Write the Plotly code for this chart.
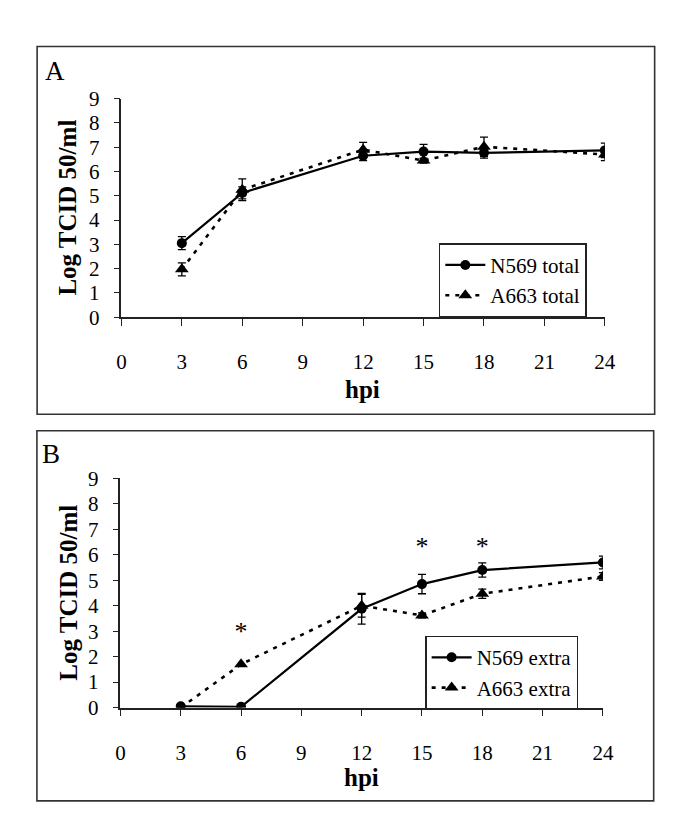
import plotly.graph_objects as go

# ---- data ----
hpi = [3, 6, 12, 15, 18, 24]

n569_total = [3.05, 5.12, 6.65, 6.82, 6.77, 6.87]
n569_total_err = [0.27, 0.25, 0.2, 0.3, 0.22, 0.3]
a663_total = [1.97, 5.25, 6.9, 6.45, 7.02, 6.7]
a663_total_err = [0.27, 0.45, 0.3, 0.1, 0.4, 0.25]

n569_extra = [0.05, 0.03, 3.88, 4.85, 5.4, 5.7]
n569_extra_err = [0.0, 0.0, 0.6, 0.38, 0.28, 0.25]
a663_extra = [0.0, 1.7, 4.0, 3.62, 4.47, 5.15]
a663_extra_err = [0.0, 0.0, 0.45, 0.1, 0.18, 0.15]

star_x = [6, 15, 18]
star_y = [2.9, 6.25, 6.25]

x_ticks = [0, 3, 6, 9, 12, 15, 18, 21, 24]
y_ticks = list(range(0, 10))

W, H = 685, 833
FONT = "Liberation Serif"


def px_x(p):
    return p / W


def px_y(p):
    return 1 - p / H


fig = go.Figure()

solid = dict(color="black", width=2.2)
dashed = dict(color="black", width=2.6, dash="4px,6px")


def add_pair(xa, ya, n_y, n_e, a_y, a_e, n_name, a_name, leg):
    fig.add_trace(go.Scatter(
        x=hpi, y=a_y, xaxis=xa, yaxis=ya, name=a_name, legend=leg,
        mode="lines+markers", line=dashed,
        marker=dict(symbol="triangle-up", size=12, color="black"),
        error_y=dict(type="data", array=a_e, visible=True, color="black",
                     thickness=1.3, width=4),
        showlegend=True, legendrank=2))
    fig.add_trace(go.Scatter(
        x=hpi, y=n_y, xaxis=xa, yaxis=ya, name=n_name, legend=leg,
        mode="lines+markers", line=solid,
        marker=dict(symbol="circle", size=10, color="black"),
        error_y=dict(type="data", array=n_e, visible=True, color="black",
                     thickness=1.3, width=4),
        showlegend=True, legendrank=1))


add_pair("x", "y", n569_total, n569_total_err, a663_total, a663_total_err,
         "N569 total", "A663 total", "legend")
add_pair("x2", "y2", n569_extra, n569_extra_err, a663_extra, a663_extra_err,
         "N569 extra", "A663 extra", "legend2")

fig.add_trace(go.Scatter(
    x=star_x, y=star_y, xaxis="x2", yaxis="y2", mode="text", text=["*"] * len(star_x),
    textfont=dict(family=FONT, size=26, color="black"), showlegend=False,
    hoverinfo="skip"))

axis_common = dict(
    showline=True, linecolor="#222", linewidth=1.5, ticks="outside",
    ticklen=7, tickwidth=1.3, tickcolor="#222", showgrid=False, zeroline=False,
    tickfont=dict(family=FONT, size=21, color="black"), fixedrange=True,
)

leg_common = dict(xanchor="left", yanchor="middle",
                  bordercolor="#222", borderwidth=1.5, bgcolor="white",
                  font=dict(family=FONT, size=21, color="black"),
                  tracegroupgap=0, itemwidth=40)

fig.update_layout(
    width=W, height=H, margin=dict(l=0, r=0, t=0, b=0),
    paper_bgcolor="white", plot_bgcolor="white",
    xaxis=dict(axis_common, domain=[px_x(111), px_x(606)], range=[0, 24],
               tickvals=x_ticks, anchor="y", ticklabelstandoff=18),
    yaxis=dict(axis_common, domain=[px_y(306), px_y(81)], range=[0, 9],
               tickvals=y_ticks, anchor="x", ticklen=6, ticklabelstandoff=10),
    xaxis2=dict(axis_common, domain=[px_x(110), px_x(604)], range=[0, 24],
                tickvals=x_ticks, anchor="y2", ticklabelstandoff=18),
    yaxis2=dict(axis_common, domain=[px_y(708), px_y(472)], range=[0, 9],
                tickvals=y_ticks, anchor="x2", ticklen=6, ticklabelstandoff=10),
    legend=dict(leg_common, x=px_x(436), y=px_y(268)),
    legend2=dict(leg_common, x=px_x(422), y=px_y(672)),
    showlegend=True,
)

shapes = []
for (x0, y0, x1, y1) in [(24.7, 27.3, 657, 406), (24.5, 423, 656, 804)]:
    shapes.append(dict(type="rect", xref="paper", yref="paper",
                       x0=px_x(x0), x1=px_x(x1), y0=px_y(y1), y1=px_y(y0),
                       line=dict(color="#333", width=1.6)))
fig.update_layout(shapes=shapes)

ann = []
ann.append(dict(text="A", x=px_x(31), y=px_y(35), xref="paper", yref="paper",
                xanchor="left", yanchor="top", showarrow=False,
                font=dict(family=FONT, size=27, color="black")))
ann.append(dict(text="B", x=px_x(28), y=px_y(429), xref="paper", yref="paper",
                xanchor="left", yanchor="top", showarrow=False,
                font=dict(family=FONT, size=27, color="black")))
for yc in [193.5, 590]:
    ann.append(dict(text="<b>Log TCID 50/ml</b>", x=px_x(56), y=px_y(yc),
                    xref="paper", yref="paper", textangle=-90, showarrow=False,
                    xanchor="center", yanchor="middle",
                    font=dict(family=FONT, size=25, color="black")))
for (xc, yc) in [(358, 380), (357, 780)]:
    ann.append(dict(text="<b>hpi</b>", x=px_x(xc), y=px_y(yc),
                    xref="paper", yref="paper", showarrow=False,
                    xanchor="center", yanchor="middle",
                    font=dict(family=FONT, size=25, color="black")))
fig.update_layout(annotations=ann)

fig.write_html("out.html")
